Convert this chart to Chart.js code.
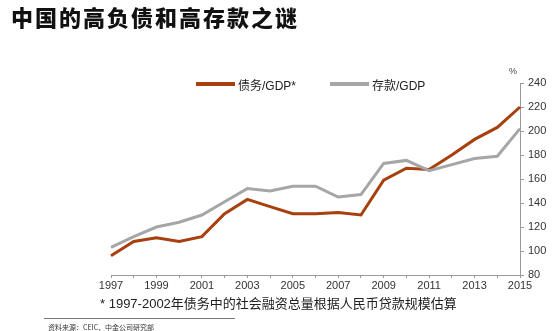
<!DOCTYPE html>
<html>
<head>
<meta charset="utf-8">
<script src="https://cdn.jsdelivr.net/npm/chart.js@4"></script>
<style>
  html,body{margin:0;padding:0;background:#fff;}
  #wrap{position:relative;width:554px;height:331px;overflow:hidden;font-family:"Liberation Sans",Arial,sans-serif;}
  #c{position:absolute;left:0;top:0;}
  .t{position:absolute;white-space:nowrap;}
  #title{left:11px;top:0px;font-family:"Noto Sans CJK SC";font-weight:900;font-size:22px;color:#111;letter-spacing:2px;}
  .leg{top:76px;font-size:12px;color:#222;font-family:"Liberation Sans","Noto Sans CJK SC",sans-serif;}
  .sw{position:absolute;height:4px;}
  #pct{left:509px;top:66px;font-size:9px;color:#444;}
  #note{left:100px;top:293px;font-size:13px;color:#222;font-family:"Liberation Sans","Noto Sans CJK SC",sans-serif;}
  #rule{position:absolute;left:44px;top:318px;width:191px;height:1px;background:#777;}
  #src{left:48px;top:322px;font-size:7px;color:#333;font-family:"Noto Sans CJK SC";}
</style>
</head>
<body>
<div id="wrap">
  <canvas id="c" width="554" height="331"></canvas>
  <div class="t" id="title">中国的高负债和高存款之谜</div>
  <div class="sw" style="left:196px;top:82px;width:39px;background:#A8400E;"></div>
  <div class="t leg" style="left:238px;">债务/GDP*</div>
  <div class="sw" style="left:330px;top:82px;width:39px;background:#A6A6A6;"></div>
  <div class="t leg" style="left:372px;">存款/GDP</div>
  <div class="t" id="pct">%</div>
  <div class="t" id="note">* 1997-2002年债务中的社会融资总量根据人民币贷款规模估算</div>
  <div id="rule"></div>
  <div class="t" id="src">资料来源：CEIC，中金公司研究部</div>
</div>
<script>
const years = ['1997','1998','1999','2000','2001','2002','2003','2004','2005','2006','2007','2008','2009','2010','2011','2012','2013','2014','2015'];
const debtGdp = [96,108,111,108,112,131,143,137,131,131,132,130,159,169,168,180,193,203,220];
const depositGdp = [103,112,120,124,130,141,152,150,154,154,145,147,173,175.5,167,172,177,179,202];

new Chart(document.getElementById('c').getContext('2d'), {
  type: 'line',
  data: {
    labels: years,
    datasets: [
      {label:'存款/GDP', data: depositGdp, borderColor:'#A6A6A6', borderWidth:3, pointRadius:0, tension:0, fill:false},
      {label:'债务/GDP*', data: debtGdp, borderColor:'#A8400E', borderWidth:3, pointRadius:0, tension:0, fill:false}
    ]
  },
  options: {
    responsive:false, animation:false,
    layout:{padding:{left:111, right:0, top:83, bottom:36}},
    plugins:{legend:{display:false}, tooltip:{enabled:false}},
    scales:{
      x:{
        offset:false,
        grid:{drawOnChartArea:false, drawTicks:true, tickLength:3, color:'#999'},
        border:{color:'#999', width:1},
        ticks:{autoSkip:false, maxRotation:0, padding:1, color:'#333', font:{family:'Liberation Sans', size:11},
          callback:(v,i)=> i%2===0 ? years[i] : ''},
        afterFit:s=>{s.height=20;}
      },
      y:{
        position:'right', min:80, max:240,
        grid:{drawOnChartArea:false, drawTicks:true, tickLength:4, color:'#999'},
        border:{color:'#999', width:1},
        ticks:{stepSize:20, padding:4, color:'#333', font:{family:'Liberation Sans', size:11}},
        afterFit:s=>{s.width=34;}
      }
    }
  }
});
</script>
</body>
</html>
